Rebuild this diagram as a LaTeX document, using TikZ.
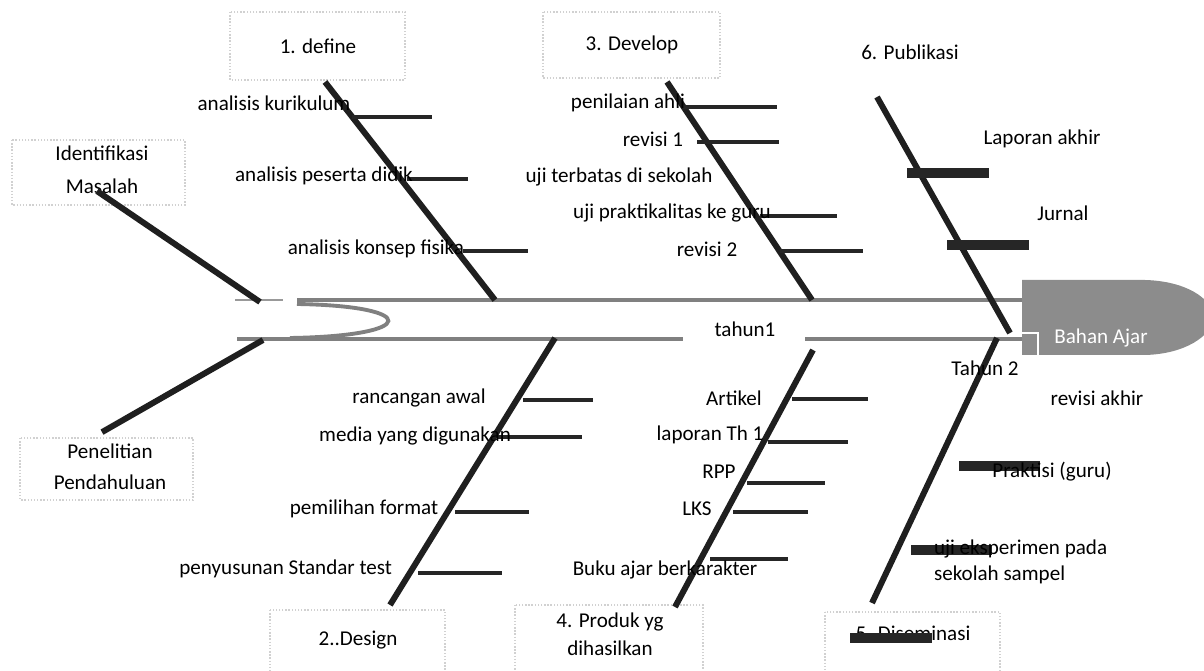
\documentclass[tikz,border=0pt]{standalone}
\usepackage{fontspec}
\setmainfont{Carlito}

\begin{document}
\begin{tikzpicture}[x=0.02cm,y=-0.02cm,
  every node/.style={font=\fontsize{12}{14}\selectfont, inner sep=0pt, outer sep=0pt},
  bone/.style={line width=3.4pt, black!88},
  rib/.style={line width=2.6pt, black!85},
  fatrib/.style={line width=5.6pt, black!85},
  spine/.style={line width=2.8pt, black!50},
  stagebox/.style={draw=black!18, densely dotted, line width=0.8pt}]
\useasboundingbox (0,0) rectangle (1204,671);
\clip (0,0) rectangle (1204,671);

\draw[stagebox] (230,12) rectangle (405,80);
\draw[stagebox] (543,12) rectangle (720,78);
\draw[stagebox] (12,140) rectangle (185,205);
\draw[stagebox] (20,438) rectangle (193,500);
\draw[stagebox] (270,610) rectangle (445,690);
\draw[stagebox] (515,605) rectangle (703,690);
\draw[stagebox] (825,612) rectangle (1000,690);

\fill[black!45] (1022,280) -- (1145,280) .. controls (1185,281) and (1212,298) .. (1214,317)
  .. controls (1212,336) and (1185,354) .. (1145,355) -- (1022,355) -- cycle;
\draw[white, line width=0.9pt] (1022,333) -- (1038,333) -- (1038,356);

\coordinate (tail1) at (297,300);
\coordinate (tail2) at (237,339);
\coordinate (head1) at (1022,300);
\coordinate (head2) at (1022,339);
\coordinate (gap1) at (683,339);
\coordinate (gap2) at (805,339);
\draw[spine] (tail1) -- (head1);
\draw[black!40, line width=1.5pt] (235,300) -- (283,300);
\draw[spine, line width=2.2pt] (tail2) -- (gap1);
\draw[spine, line width=2.2pt] (gap2) -- (head2);
\draw[spine, line width=2.2pt] (297,304) .. controls (420,306) and (420,336) .. (290,338);

\coordinate (d1) at (325,82);  \coordinate (d2) at (495,300);
\coordinate (v1) at (667,82);  \coordinate (v2) at (812,300);
\coordinate (p1) at (877,97);  \coordinate (p2) at (1010,333);
\coordinate (g1) at (555,338); \coordinate (g2) at (390,605);
\coordinate (k1) at (813,350); \coordinate (k2) at (675,607);
\coordinate (s1) at (997,338); \coordinate (s2) at (872,603);
\coordinate (m1) at (260,302);
\coordinate (n1) at (263,340);

\node (masalah) [align=center, font=\fontsize{12}{19}\selectfont] at (102,170) {Identifikasi\\Masalah};
\node (awal) [align=center, font=\fontsize{12}{17.6}\selectfont] at (110,467) {Penelitian\\Pendahuluan};
\draw[bone] ([shift={(-5,-3)}]masalah.south) -- (m1);
\draw[bone] ([shift={(-8,-12)}]awal.north) -- (n1);

\draw[bone] (d1) -- (d2);
\draw[bone] (v1) -- (v2);
\draw[bone] (p1) -- (p2);
\draw[bone] (g1) -- (g2);
\draw[bone] (k1) -- (k2);
\draw[bone] (s1) -- (s2);

\draw[rib] (352,117) -- (432,117);
\draw[rib] (407,179) -- (468,179);
\draw[rib] (463,251) -- (528,251);
\draw[rib] (683,107) -- (777,107);
\draw[rib] (697,142) -- (779,142);
\draw[rib] (760,216) -- (837,216);
\draw[rib] (780,251) -- (863,251);
\draw[fatrib] (907,173) -- (989,173);
\draw[fatrib] (947,245) -- (1029,245);
\draw[rib] (523,400) -- (593,400);
\draw[rib] (497,437) -- (582,437);
\draw[rib] (455,512) -- (529,512);
\draw[rib] (418,573) -- (502,573);
\draw[rib] (792,399) -- (868,399);
\draw[rib] (768,442) -- (848,442);
\draw[rib] (747,483) -- (825,483);
\draw[rib] (733,512) -- (808,512);
\draw[rib] (710,559) -- (788,559);
\draw[fatrib] (959,466) -- (1040,466);
\draw[fatrib] (911,550) -- (992,550);

\node (define) at (318,46) {1. define};
\node (develop) at (632,45) {3. Develop};
\node (publikasi) at (910,52) {6. Publikasi};
\node (design) at (358,640) {2..Design};
\node (produk) [align=center, font=\fontsize{12}{16}\selectfont] at (610,634) {4. Produk yg\\dihasilkan};
\node (diseminasi) at (913,633) {5. Diseminasi};
\draw[fatrib] (850,638) -- (932,638);

\node (kurikulum) at (274,103) {analisis kurikulum};
\node (peserta) at (324,176) {analisis peserta didik};
\node (konsep) at (376,249) {analisis konsep fisika};
\node (ahli) at (628,103) {penilaian ahli};
\node (revisi1) at (653,139) {revisi 1};
\node (terbatas) at (619,177) {uji terbatas di sekolah};
\node (praktikalitas) at (672,213) {uji praktikalitas ke guru};
\node (revisi2) at (707,249) {revisi 2};
\node (laporan) at (1042,139) {Laporan akhir};
\node (jurnal) at (1063,213) {Jurnal};

\node (rancangan) at (419,398) {rancangan awal};
\node (media) at (415,436) {media yang digunakan};
\node (format) at (364,509) {pemilihan format};
\node (standar) [anchor=east] at (392,569) {penyusunan Standar test};
\node (artikel) at (734,398) {Artikel};
\node (laporan1) at (710,435) {laporan Th 1};
\node (rpp) at (719,472) {RPP};
\node (lks) at (697,509) {LKS};
\node (buku) at (665,570) {Buku ajar berkarakter};
\node (revakhir) at (1097,398) {revisi akhir};
\node (praktisi) at (1052,472) {Praktisi (guru)};
\node (eksperimen) [anchor=west, align=left, font=\fontsize{12}{14.5}\selectfont] at (934,562) {uji eksperimen pada\\sekolah sampel};

\node (tahun1) at (745,329) {tahun1};
\node (tahun2) at (985,368) {Tahun 2};
\node (bahan) [text=white] at (1101,338) {Bahan Ajar};
\end{tikzpicture}
\end{document}
